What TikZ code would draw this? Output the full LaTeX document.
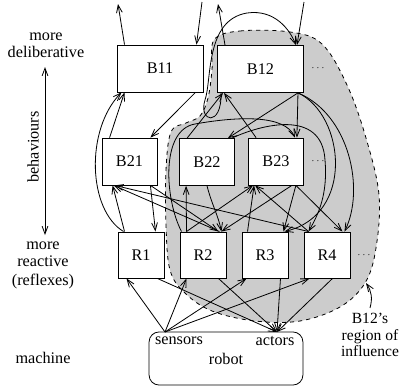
\documentclass[tikz,border=0pt]{standalone}
\usepackage{fontspec}
\setmainfont{Liberation Serif}
\usetikzlibrary{arrows.meta,calc}

\begin{document}
\begin{tikzpicture}[x=0.26mm,y=-0.26mm,semithick,
  >={Straight Barb[length=2mm,width=1.5mm]},
  every node/.style={font=\fontsize{12}{12.5}\selectfont},
  bbox/.style={draw,fill=white,minimum width=22.4mm,minimum height=12.2mm,inner sep=0pt},
  sbox/.style={draw,fill=white,minimum width=14.3mm,minimum height=12.2mm,inner sep=0pt},
  rbox/.style={draw,fill=white,minimum width=12mm,minimum height=12mm,inner sep=0pt},
  more/.style={font=\scriptsize},
  lbl/.style={align=center},
  region/.style={draw,dashed,fill=black!20}
]
\useasboundingbox (0,0) rectangle (402,388);

% region of influence
\draw[region] plot[smooth cycle,tension=0.6] coordinates {(214,40) (240,31) (290,32) (322,44)
  (347,85) (366,138) (379,195) (376,248) (365,283) (340,307) (300,321) (255,321) (212,311)
  (185,293) (170,270) (166,225) (166,170) (171,132) (186,123) (200,116) (208,98) (212,70)};

% behaviours
\node[bbox] (B11) at (160,68.5) {B11};
\node[bbox] (B12) at (260.5,69) {B12};
\node[more] (m1) at (318,68) {$\cdots$};
\node[sbox] (B21) at (129.5,161.5) {B21};
\node[sbox] (B22) at (207,162) {B22};
\node[sbox] (B23) at (276,161.5) {B23};
\node[more] (m2) at (318,161) {$\cdots$};

% reflexes
\node[rbox] (R1) at (141,255) {R1};
\node[rbox] (R2) at (203,255) {R2};
\node[rbox] (R3) at (265,255) {R3};
\node[rbox] (R4) at (327,255) {R4};
\node[more] (m3) at (364,255) {$\cdots$};

% machine
\node[draw,rounded corners=2.6mm,minimum width=40mm,minimum height=13.8mm] (robot) at (226,358.5) {robot};
\node (sensors) at (179,341) {sensors};
\node (actors) at (275,341) {actors};
\coordinate (sens) at (165,332);
\coordinate (act) at (277,332);

% left labels
\node[lbl] (delib) at (46,45) {more\\deliberative};
\node[rotate=90] (behav) at (33,147) {behaviours};
\node[lbl] (react) at (43,254) {more\\reactive};
\node (reflex) at (43,282) {(reflexes)};
\node (machine) at (43,358) {machine};
\coordinate (atop) at (45,67);
\coordinate (abot) at (45,235);
\draw[<->] (atop) -- (abot);

\node[lbl,font=\fontsize{11.5}{12.5}\selectfont] (infl) at (370,335) {B12's\\region of\\influence};
\coordinate (rgn) at (366,283);
\draw[->] (infl.north) to[bend right=25] (rgn);

% outside links
\coordinate (o11) at (118,4);
\coordinate (i11) at (202,2);
\coordinate (o12) at (218,4);
\coordinate (i12) at (304,2);
\draw[->] ($(B11.north west)+(8,0)$) -- (o11);
\draw[->] (i11) -- ($(B11.north east)+(-7,0)$);
\draw[->] ($(B12.north west)+(8,0)$) -- (o12);
\draw[->] (i12) -- ($(B12.north east)+(-7,0)$);
\draw[->] ($(B12.south west)+(4,0)$) .. controls (222,128) and (198,122) .. (205,100)
  .. controls (212,80) and (205,20) .. (247,13) .. controls (275,9) and (290,30) .. ($(B12.north east)+(-8,0)$);

% between behaviours
\draw[->] ($(B11.south east)+(-8,0)$) -- ($(B21.north east)+(-7,0)$);
\draw[->] ($(B21.north west)+(8,0)$) -- ($(B11.south west)+(8,0)$);
\draw[->] ($(R1.north west)+(6,0)$) .. controls (88,210) and (85,130) .. ($(B11.south west)+(5,0)$);
\draw[->] ($(B12.south east)+(-6,0)$) -- ($(B22.north east)+(-7,0)$);
\draw[->] ($(B22.north west)+(8,0)$) -- ($(B12.south west)+(6,0)$);
\draw[->] ($(B23.north west)+(8,0)$) -- ($(B12.south west)+(7,0)$);
\draw[->] ($(B12.south east)+(-6,0)$) -- ($(B23.north east)+(-7,0)$);
\draw[->] ($(B12.south east)+(-6,0)$) .. controls (345,115) and (355,215) .. ($(R3.north east)+(-4,0)$);
\draw[->] ($(B12.south east)+(-6,0)$) .. controls (350,115) and (365,190) .. ($(R4.north east)+(-6,0)$);
\draw[->] ($(R2.north west)+(2,0)$) .. controls (165,200) and (160,130) .. (195,124)
  .. controls (240,116) and (285,115) .. ($(B23.north east)+(-9,0)$);
\draw[->] ($(B22.north east)+(-3,0)$) .. controls (260,125) and (322,108) .. (325,160)
  .. controls (328,195) and (318,215) .. ($(R4.north west)+(5,0)$);

% behaviours and reflexes
\draw[->] ($(B21.south east)+(-7,0)$) -- ($(R1.north east)+(-9,0)$);
\draw[->] ($(R1.north west)+(7,0)$) -- ($(B21.south west)+(11,0)$);
\draw[->] ($(B21.south east)+(-7,0)$) -- ($(R2.north east)+(-8,0)$);
\draw[->] ($(R2.north east)+(-7,0)$) -- ($(B21.south west)+(12,0)$);
\draw[->] ($(R4.north west)+(5,0)$) -- ($(B21.south west)+(13,0)$);
\draw[->] ($(R2.north west)+(7,0)$) -- ($(B22.south west)+(7,0)$);
\draw[->] ($(B22.south)$) .. controls (212,205) and (218,215) .. ($(R2.north east)+(-5,0)$);
\draw[->] ($(R2.north west)+(7,0)$) -- ($(B23.south west)+(5,0)$);
\draw[->] ($(B23.south east)+(-12,0)$) -- ($(R2.north east)+(-5,0)$);
\draw[->] ($(R3.north west)+(6,0)$) -- ($(B23.south west)+(6,0)$);
\draw[->] ($(B23.south east)+(-8,0)$) -- ($(R3.north east)+(-5,0)$);
\draw[->] ($(B23.south east)+(-8,0)$) -- ($(R4.north east)+(-8,0)$);
\draw[->] ($(R4.north west)+(5,0)$) -- ($(B23.south west)+(7,0)$);

% robot and reflexes
\foreach \r/\d in {R1/9,R2/7,R3/5,R4/6}
  \draw[->] (sens) -- ($(\r.south west)+(\d,0)$);
\foreach \r/\d in {R1/-7,R2/-8,R3/-8,R4/-18}
  \draw[->] ($(\r.south east)+(\d,0)$) -- (act);
\end{tikzpicture}
\end{document}
